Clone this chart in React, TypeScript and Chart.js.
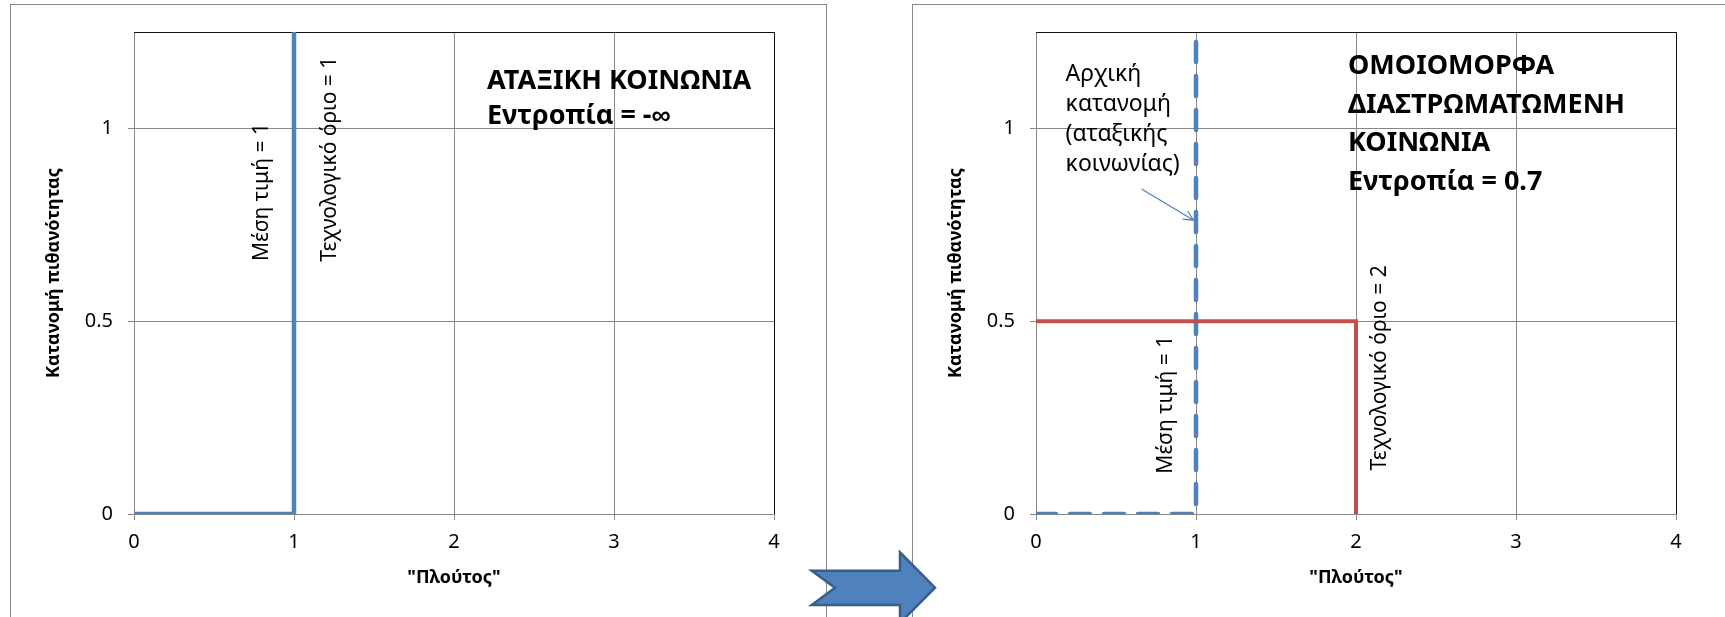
import React, { useEffect, useRef } from 'react';
import { Chart, registerables } from 'chart.js';

Chart.register(...registerables);

// ---------- data ----------
const xTickValues = [0, 1, 2, 3, 4];
const yTickValues = [0, 0.5, 1];
const X_MIN = 0;
const X_MAX = 4;
const Y_MIN = 0;
const Y_MAX = 1.25;

// Left chart: classless society (all mass at wealth = 1)
const classlessX = [0, 1, 1];
const classlessY = [0, 0, 1.25];

// Right chart: initial distribution (dashed) and uniform distribution
const initialX = [0, 1, 1];
const initialY = [0, 0, 1.25];
const uniformX = [0, 2, 2];
const uniformY = [0.5, 0.5, 0];

const xTitle = '"Πλούτος"';
const yTitle = 'Κατανομή πιθανότητας';
const leftHeading = ['ΑΤΑΞΙΚΗ ΚΟΙΝΩΝΙΑ', 'Εντροπία = -∞'];
const rightHeading = ['ΟΜΟΙΟΜΟΡΦΑ', 'ΔΙΑΣΤΡΩΜΑΤΩΜΕΝΗ', 'ΚΟΙΝΩΝΙΑ', 'Εντροπία = 0.7'];
const initialNote = ['Αρχική', 'κατανομή', '(αταξικής', 'κοινωνίας)'];
const meanLabel = 'Μέση τιμή = 1';
const limitLabelLeft = 'Τεχνολογικό όριο = 1';
const limitLabelRight = 'Τεχνολογικό όριο = 2';

// ---------- styles ----------
const FONT = "'Noto Sans', sans-serif";
const GRID = '#878787';
const BLUE = '#4F81BD';
const RED = '#C0504D';

const toPoints = (xs: number[], ys: number[]) => xs.map((x, i) => ({ x, y: ys[i] }));

type Note = {
  lines: string[];
  x: number;
  y: number;
  font: string;
  lh?: number;
  rotate?: boolean;
};
type Pointer = { x0: number; y0: number; x1: number; y1: number };

function makePlugin(notes: Note[], pointers: Pointer[]) {
  return {
    id: 'notes',
    beforeDatasetsDraw(chart: any) {
      const { ctx, chartArea } = chart;
      ctx.save();
      ctx.strokeStyle = '#111';
      ctx.lineWidth = 1;
      const t = Math.round(chartArea.top) + 0.5;
      const r = Math.round(chartArea.right) + 0.5;
      ctx.beginPath();
      ctx.moveTo(chartArea.left, t);
      ctx.lineTo(r, t);
      ctx.lineTo(r, chartArea.bottom);
      ctx.stroke();
      ctx.restore();
    },
    afterDatasetsDraw(chart: any) {
      const { ctx } = chart;
      const xs = chart.scales.x;
      const ys = chart.scales.y;
      ctx.save();
      ctx.fillStyle = '#000';
      notes.forEach((n) => {
        const px = xs.getPixelForValue(n.x);
        const py = ys.getPixelForValue(n.y);
        ctx.font = n.font;
        if (n.rotate) {
          ctx.save();
          ctx.translate(px, py);
          ctx.rotate(-Math.PI / 2);
          ctx.textAlign = 'center';
          ctx.textBaseline = 'middle';
          ctx.fillText(n.lines[0], 0, 0);
          ctx.restore();
        } else {
          ctx.textAlign = 'left';
          ctx.textBaseline = 'alphabetic';
          n.lines.forEach((l, i) => ctx.fillText(l, px, py + i * (n.lh || 0)));
        }
      });
      pointers.forEach((p) => {
        const ax = xs.getPixelForValue(p.x0);
        const ay = ys.getPixelForValue(p.y0);
        const bx = xs.getPixelForValue(p.x1);
        const by = ys.getPixelForValue(p.y1);
        const ang = Math.atan2(by - ay, bx - ax);
        ctx.strokeStyle = BLUE;
        ctx.lineWidth = 1.2;
        ctx.beginPath();
        ctx.moveTo(ax, ay);
        ctx.lineTo(bx, by);
        const hl = 11;
        ctx.moveTo(bx - hl * Math.cos(ang - 0.45), by - hl * Math.sin(ang - 0.45));
        ctx.lineTo(bx, by);
        ctx.lineTo(bx - hl * Math.cos(ang + 0.45), by - hl * Math.sin(ang + 0.45));
        ctx.stroke();
      });
      ctx.restore();
    },
  };
}

type PanelProps = {
  left: number;
  top: number;
  width: number;
  height: number;
  padRight: number;
  datasets: any[];
  notes: Note[];
  pointers: Pointer[];
};

function Panel({ left, top, width, height, padRight, datasets, notes, pointers }: PanelProps) {
  const ref = useRef<HTMLCanvasElement>(null);
  useEffect(() => {
    if (!ref.current) return;
    const chart = new Chart(ref.current, {
      type: 'scatter',
      data: { datasets },
      options: {
        animation: false,
        responsive: false,
        layout: { padding: { left: 0, top: 24, right: padRight, bottom: 0 } },
        plugins: { legend: { display: false }, tooltip: { enabled: false } },
        scales: {
          x: {
            type: 'linear',
            min: X_MIN,
            max: X_MAX,
            afterBuildTicks: (s: any) => {
              s.ticks = xTickValues.map((v) => ({ value: v }));
            },
            afterFit: (s: any) => {
              s.height = 103;
            },
            grid: { color: GRID, lineWidth: 1, tickLength: 6 },
            border: { color: GRID, width: 1 },
            ticks: {
              color: '#000',
              font: { family: FONT, size: 20 },
              padding: 10,
              callback: (v: any) => String(v),
            },
            title: {
              display: true,
              text: xTitle,
              color: '#000',
              font: { family: FONT, size: 18, weight: 'bold' },
              padding: { top: 0, bottom: 28 },
            },
          },
          y: {
            type: 'linear',
            min: Y_MIN,
            max: Y_MAX,
            afterBuildTicks: (s: any) => {
              s.ticks = yTickValues.map((v) => ({ value: v }));
            },
            afterFit: (s: any) => {
              s.width = 123;
            },
            grid: { color: GRID, lineWidth: 1, tickLength: 6 },
            border: { color: GRID, width: 1 },
            ticks: {
              color: '#000',
              font: { family: FONT, size: 20 },
              padding: 15,
              callback: (v: any) => String(v),
            },
            title: {
              display: true,
              text: yTitle,
              color: '#000',
              font: { family: FONT, size: 18, weight: 'bold' },
              padding: { top: 32, bottom: 0 },
            },
          },
        },
      } as any,
      plugins: [makePlugin(notes, pointers) as any],
    });
    return () => chart.destroy();
  }, []);
  return (
    <canvas
      ref={ref}
      width={width}
      height={height}
      style={{ position: 'absolute', left, top, width, height }}
    />
  );
}

const headingFont = `bold 27px ${FONT}`;
const noteFont = `21px ${FONT}`;
const bigNoteFont = `23px ${FONT}`;

export default function App() {
  const leftDatasets = [
    {
      data: toPoints(classlessX, classlessY),
      showLine: true,
      borderColor: BLUE,
      borderWidth: 4.5,
      pointRadius: 0,
      fill: false,
    },
  ];
  const rightDatasets = [
    {
      data: toPoints(uniformX, uniformY),
      showLine: true,
      borderColor: RED,
      borderWidth: 4,
      pointRadius: 0,
      fill: false,
    },
    {
      data: toPoints(initialX, initialY),
      showLine: true,
      borderColor: BLUE,
      borderWidth: 4.5,
      borderDash: [20, 14],
      borderCapStyle: 'round',
      pointRadius: 0,
      fill: false,
    },
  ];
  const leftNotes: Note[] = [
    { lines: [meanLabel], x: 0.8, y: 0.835, font: noteFont, rotate: true },
    { lines: [limitLabelLeft], x: 1.225, y: 0.92, font: noteFont, rotate: true },
    { lines: leftHeading, x: 2.206, y: 1.101, font: headingFont, lh: 35 },
  ];
  const rightNotes: Note[] = [
    { lines: initialNote, x: 0.185, y: 1.122, font: bigNoteFont, lh: 30 },
    { lines: rightHeading, x: 1.95, y: 1.14, font: headingFont, lh: 38.5 },
    { lines: [meanLabel], x: 0.815, y: 0.2835, font: noteFont, rotate: true },
    { lines: [limitLabelRight], x: 2.15, y: 0.379, font: noteFont, rotate: true },
  ];
  const rightPointers: Pointer[] = [{ x0: 0.66, y0: 0.843, x1: 0.985, y1: 0.762 }];

  return (
    <div
      style={{
        position: 'fixed',
        left: 0,
        top: 0,
        width: 1725,
        height: 617,
        overflow: 'hidden',
        background: '#fff',
      }}
    >
      <div
        style={{
          position: 'absolute',
          left: 10,
          top: 4,
          width: 817,
          height: 700,
          border: `1px solid ${GRID}`,
          boxSizing: 'border-box',
        }}
      />
      <div
        style={{
          position: 'absolute',
          left: 912,
          top: 4,
          width: 900,
          height: 700,
          border: `1px solid ${GRID}`,
          boxSizing: 'border-box',
        }}
      />
      <Panel
        left={11}
        top={5}
        width={814}
        height={612}
        padRight={51}
        datasets={leftDatasets}
        notes={leftNotes}
        pointers={[]}
      />
      <Panel
        left={913}
        top={5}
        width={812}
        height={612}
        padRight={49}
        datasets={rightDatasets}
        notes={rightNotes}
        pointers={rightPointers}
      />
      <svg
        width={1725}
        height={617}
        style={{ position: 'absolute', left: 0, top: 0, pointerEvents: 'none' }}
      >
        <polygon
          points="811.7,570.7 900,570.7 900,552.3 935,587.7 900,623 900,605 811.7,605 835,587.7"
          fill={BLUE}
          stroke="#385D8A"
          strokeWidth={2.5}
          strokeLinejoin="miter"
        />
      </svg>
    </div>
  );
}
